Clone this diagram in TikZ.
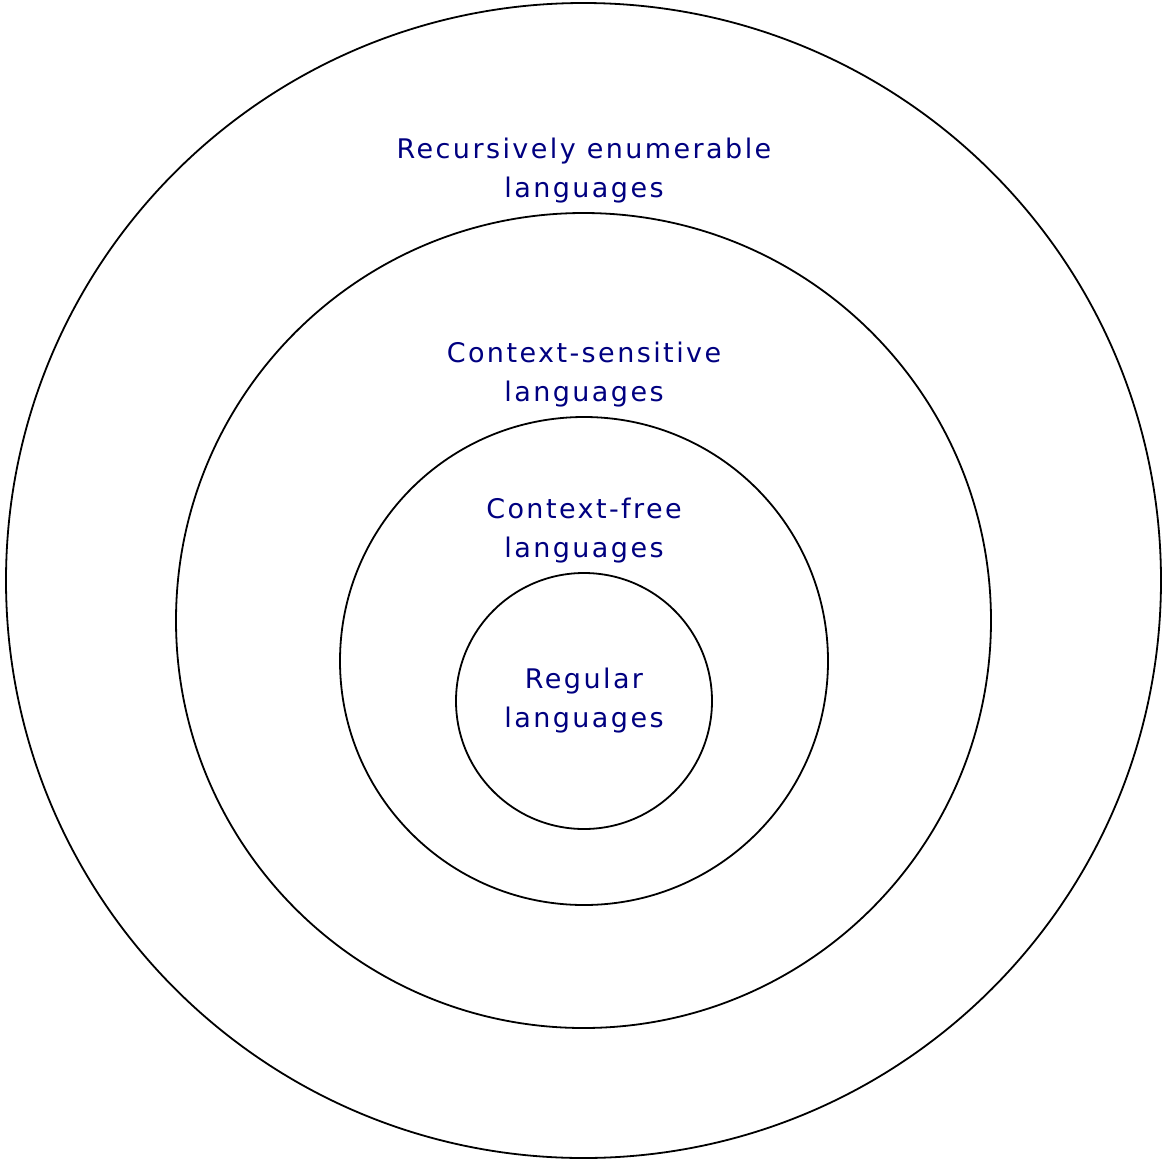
\documentclass[tikz,border=0pt]{standalone}
\usepackage{fontspec}
\setmainfont[LetterSpace=9]{DejaVu Sans}
\definecolor{labelblue}{RGB}{0,0,128}
\begin{document}
\begin{tikzpicture}[x=1pt,y=-1pt,
  ring/.style={draw=black,line width=1.8pt},
  lbl/.style={text=labelblue,align=center,inner sep=0pt,font=\fontsize{27}{39}\selectfont}]
\useasboundingbox (0,0) rectangle (1163,1160);
\draw[ring] (583.5,580.5) circle[radius=577.5];
\draw[ring] (583.5,620.5) circle[radius=407.5];
\draw[ring] (584,661) circle[radius=244];
\draw[ring] (584,701) circle[radius=128];
\node[lbl] (re) at (584,171) {Recursively enumerable\\languages};
\node[lbl] (cs) at (584,374.5) {Context-sensitive\\languages};
\node[lbl] (cf) at (584,530.5) {Context-free\\languages};
\node[lbl] (reg) at (584,700.5) {Regular\\languages};
\end{tikzpicture}
\end{document}
